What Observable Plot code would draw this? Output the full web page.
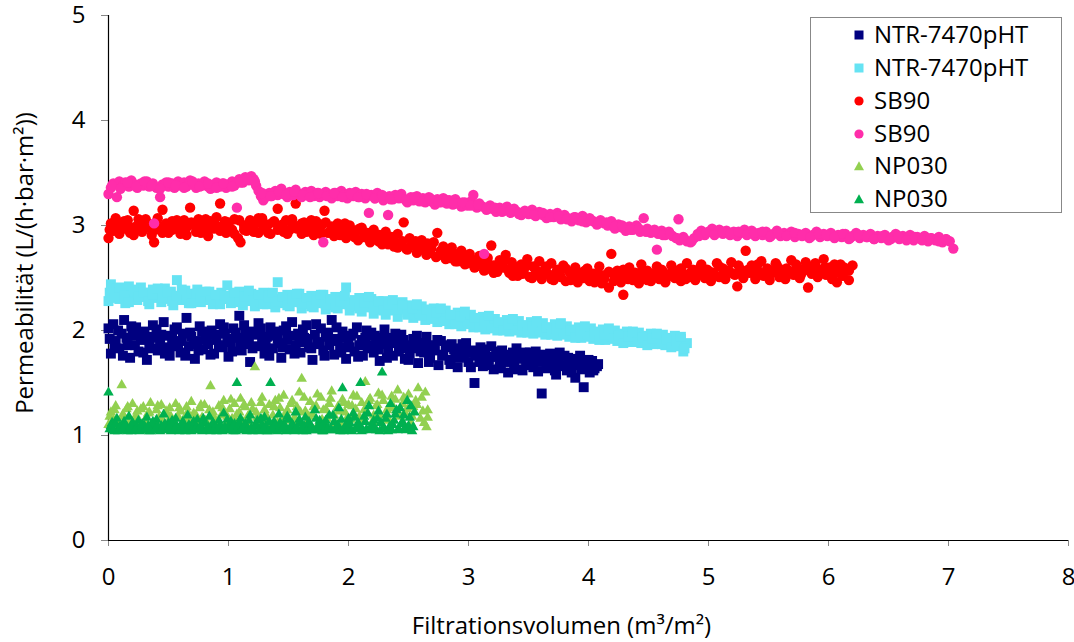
<!DOCTYPE html>
<html><head><meta charset="utf-8">
<script src="https://cdn.jsdelivr.net/npm/d3@7"></script>
<script src="https://cdn.jsdelivr.net/npm/@observablehq/plot@0.6"></script>
<style>
body{margin:0;background:#fff;}
#wrap{position:relative;width:1074px;height:642px;font-family:"Open Sans",sans-serif;}
#legend{position:absolute;left:810px;top:17px;width:252px;height:196px;border:1px solid #888;background:#fff;box-sizing:border-box;}
.row{position:absolute;left:0;width:250px;height:32px;}
.row svg{position:absolute;left:41px;top:9px;}
.row span{position:absolute;left:63px;top:-1px;line-height:32px;font-size:24px;color:#000;white-space:nowrap;}
</style></head><body><div id="wrap"><div id="legend"></div></div>
<script>
// Filtrationsvolumen (m3/m2), Permeabilität (L/(h·bar·m2))
const ntrA = [[0.00,2.02],[0.02,1.78],[0.04,2.06],[0.06,1.90],[0.09,1.83],[0.11,1.97],[0.13,2.10],[0.16,1.86],[0.18,1.74],[0.20,1.95],[0.23,2.03],[0.25,1.80],[0.27,1.91],[0.30,1.99],[0.32,1.72],[0.34,1.87],[0.37,2.05],[0.39,1.93],[0.41,1.81],[0.44,1.96],[0.46,2.08],[0.48,1.84],[0.51,1.76],[0.53,1.92],[0.55,2.01],[0.58,1.88],[0.60,1.79],[0.62,1.97],[0.65,2.12],[0.67,1.85],[0.69,1.94],[0.72,1.73],[0.74,1.90],[0.76,2.04],[0.79,1.82],[0.81,1.95],[0.83,1.87],[0.86,2.00],[0.88,1.78],[0.90,1.91],[0.93,2.06],[0.95,1.84],[0.97,1.97],[1.00,1.75],[1.02,1.89],[1.04,2.02],[1.07,1.93],[1.09,2.14],[1.11,1.81],[1.14,1.96],[1.16,1.87],[1.18,1.70],[1.21,1.99],[1.23,1.85],[1.25,2.07],[1.28,1.92],[1.30,1.78],[1.32,1.94],[1.35,2.03],[1.37,1.83],[1.39,1.95],[1.42,1.88],[1.44,1.74],[1.46,2.00],[1.49,1.91],[1.51,1.82],[1.53,2.08],[1.56,1.86],[1.58,1.97],[1.60,1.79],[1.63,1.93],[1.65,2.05],[1.67,1.84],[1.70,1.72],[1.72,1.96],[1.74,1.89],[1.77,2.02],[1.79,1.81],[1.81,1.94],[1.84,1.86],[1.86,2.10],[1.88,1.77],[1.91,1.92],[1.93,1.84],[1.95,1.99],[1.98,1.73],[2.00,1.88],[2.02,1.95],[2.05,1.80],[2.07,2.03],[2.09,1.86],[2.12,1.76],[2.14,1.93],[2.16,1.83],[2.19,1.98],[2.21,1.79],[2.23,1.90],[2.26,1.71],[2.28,1.87],[2.30,2.01],[2.33,1.82],[2.35,1.93],[2.37,1.76],[2.40,1.89],[2.42,1.80],[2.44,1.96],[2.47,1.73],[2.49,1.85],[2.51,1.78],[2.54,1.92],[2.56,1.83],[2.58,1.69],[2.61,1.88],[2.63,1.79],[2.65,1.94],[2.68,1.74],[2.70,1.86],[2.72,1.81],[2.75,1.67],[2.77,1.90],[2.79,1.77],[2.82,1.84],[2.84,1.72],[2.86,1.87],[2.89,1.79],[2.91,1.65],[2.93,1.83],[2.96,1.75],[2.98,1.88],[3.00,1.70],[3.03,1.81],[3.05,1.50],[3.07,1.76],[3.10,1.84],[3.12,1.66],[3.14,1.78],[3.17,1.72],[3.19,1.85],[3.21,1.63],[3.24,1.75],[3.26,1.69],[3.28,1.81],[3.31,1.71],[3.33,1.60],[3.35,1.77],[3.38,1.67],[3.40,1.83],[3.42,1.73],[3.45,1.62],[3.47,1.79],[3.49,1.69],[3.52,1.75],[3.54,1.65],[3.56,1.80],[3.59,1.70],[3.61,1.40],[3.63,1.74],[3.66,1.64],[3.68,1.78],[3.70,1.68],[3.73,1.58],[3.75,1.72],[3.77,1.66],[3.80,1.76],[3.82,1.62],[3.84,1.70],[3.87,1.67],[3.89,1.55],[3.91,1.73],[3.94,1.63],[3.96,1.46],[3.98,1.69],[4.01,1.60],[4.03,1.71],[4.05,1.64],[4.08,1.68],
[0.01,1.92],[0.05,1.84],[0.08,2.00],[0.12,1.76],[0.15,1.93],[0.19,2.04],[0.22,1.86],[0.26,1.97],[0.29,1.79],[0.33,1.94],[0.36,1.83],[0.40,2.01],[0.43,1.89],[0.47,1.78],[0.50,1.95],[0.54,1.85],[0.57,2.03],[0.61,1.90],[0.64,1.76],[0.68,1.98],[0.71,1.87],[0.75,1.81],[0.78,1.99],[0.82,1.91],[0.85,1.77],[0.89,1.96],[0.92,1.86],[0.96,2.03],[0.99,1.92],[1.03,1.80],[1.06,1.98],[1.10,1.88],[1.13,2.05],[1.17,1.93],[1.20,1.83],[1.24,1.96],[1.27,2.02],[1.31,1.87],[1.34,1.76],[1.38,1.99],[1.41,1.92],[1.45,1.84],[1.48,2.04],[1.52,1.95],[1.55,1.78],[1.59,1.89],[1.62,2.01],[1.66,1.92],[1.69,1.83],[1.73,2.06],[1.76,1.87],[1.80,1.76],[1.83,1.98],[1.87,1.90],[1.90,2.03],[1.94,1.79],[1.97,1.93],[2.01,1.84],[2.04,1.97],[2.08,1.75],[2.11,1.91],[2.15,2.00],[2.18,1.86],[2.22,1.95],[2.25,1.82],[2.29,1.93],[2.32,1.74],[2.36,1.88],[2.39,1.97],[2.43,1.83],[2.46,1.91],[2.50,1.72],[2.53,1.86],[2.57,1.95],[2.60,1.80],[2.64,1.88],[2.67,1.70],[2.71,1.83],[2.74,1.91],[2.78,1.76],[2.81,1.86],[2.85,1.68],[2.88,1.82],[2.92,1.74],[2.95,1.87],[2.99,1.79],[3.02,1.65],[3.06,1.77],[3.09,1.70],[3.13,1.82],[3.16,1.67],[3.20,1.75],[3.23,1.80],[3.27,1.64],[3.30,1.76],[3.34,1.70],[3.37,1.79],[3.41,1.63],[3.44,1.74],[3.48,1.67],[3.51,1.79],[3.55,1.71],[3.58,1.61],[3.62,1.77],[3.65,1.69],[3.69,1.73],[3.72,1.62],[3.76,1.79],[3.79,1.67],[3.83,1.74],[3.86,1.60],[3.90,1.70],[3.93,1.76],[3.97,1.65],[4.00,1.72],[4.04,1.62],[4.07,1.66]];

const ntrB = [[0.00,2.28],[0.02,2.44],[0.04,2.35],[0.07,2.40],[0.09,2.30],[0.12,2.38],[0.14,2.26],[0.17,2.42],[0.19,2.33],[0.22,2.37],[0.24,2.29],[0.27,2.41],[0.29,2.32],[0.32,2.36],[0.34,2.25],[0.37,2.39],[0.39,2.31],[0.42,2.35],[0.44,2.27],[0.47,2.40],[0.49,2.30],[0.52,2.37],[0.54,2.24],[0.57,2.48],[0.59,2.33],[0.62,2.29],[0.64,2.38],[0.67,2.26],[0.69,2.35],[0.72,2.31],[0.74,2.39],[0.77,2.27],[0.79,2.34],[0.82,2.29],[0.84,2.37],[0.87,2.25],[0.89,2.32],[0.92,2.28],[0.94,2.36],[0.97,2.30],[0.99,2.43],[1.02,2.26],[1.04,2.34],[1.07,2.29],[1.09,2.37],[1.12,2.24],[1.14,2.32],[1.17,2.28],[1.19,2.35],[1.22,2.23],[1.24,2.31],[1.27,2.27],[1.29,2.36],[1.32,2.25],[1.34,2.33],[1.37,2.28],[1.39,2.22],[1.41,2.46],[1.44,2.30],[1.46,2.26],[1.49,2.34],[1.51,2.23],[1.54,2.31],[1.56,2.27],[1.59,2.35],[1.61,2.21],[1.64,2.29],[1.66,2.25],[1.69,2.33],[1.71,2.22],[1.74,2.30],[1.76,2.26],[1.79,2.34],[1.81,2.20],[1.84,2.28],[1.86,2.24],[1.89,2.32],[1.91,2.21],[1.94,2.29],[1.96,2.25],[1.98,2.41],[2.01,2.19],[2.04,2.27],[2.06,2.23],[2.09,2.31],[2.11,2.18],[2.14,2.26],[2.16,2.22],[2.19,2.30],[2.21,2.16],[2.24,2.25],[2.26,2.20],[2.29,2.28],[2.31,2.15],[2.34,2.23],[2.36,2.19],[2.39,2.26],[2.41,2.13],[2.44,2.21],[2.45,2.27],[2.49,2.17],[2.51,2.24],[2.54,2.12],[2.56,2.20],[2.59,2.16],[2.61,2.23],[2.64,2.10],[2.66,2.18],[2.69,2.14],[2.71,2.21],[2.74,2.08],[2.76,2.16],[2.79,2.12],[2.81,2.19],[2.84,2.06],[2.86,2.14],[2.89,2.10],[2.91,2.17],[2.94,2.04],[2.96,2.12],[2.99,2.08],[3.02,2.15],[3.04,2.03],[3.07,2.10],[3.09,2.06],[3.12,2.13],[3.14,2.01],[3.17,2.09],[3.19,2.05],[3.22,2.11],[3.24,2.00],[3.27,2.07],[3.29,2.03],[3.32,2.10],[3.34,1.99],[3.37,2.06],[3.39,2.02],[3.42,2.09],[3.44,1.98],[3.47,2.05],[3.49,2.01],[3.52,2.08],[3.54,1.97],[3.57,2.04],[3.59,2.00],[3.62,2.07],[3.64,1.96],[3.67,2.03],[3.69,1.99],[3.72,2.06],[3.74,1.95],[3.77,2.02],[3.79,1.98],[3.82,2.04],[3.84,1.94],[3.87,2.01],[3.89,1.97],[3.92,2.03],[3.94,1.93],[3.97,2.00],[3.99,1.96],[4.02,2.02],[4.04,1.92],[4.07,1.99],[4.09,1.95],[4.12,2.01],[4.14,1.91],[4.17,1.98],[4.19,1.94],[4.22,2.00],[4.24,1.90],[4.27,1.97],[4.29,1.93],[4.32,1.99],[4.34,1.89],[4.37,1.96],[4.39,1.92],[4.42,1.98],[4.44,1.88],[4.47,1.95],[4.49,1.91],[4.52,1.97],[4.54,1.87],[4.57,1.94],[4.59,1.90],[4.62,1.96],[4.64,1.86],[4.67,1.93],[4.69,1.89],[4.72,1.95],[4.74,1.85],[4.77,1.92],[4.79,1.80],[4.82,1.88],
[0.01,2.36],[0.05,2.31],[0.09,2.41],[0.13,2.33],[0.17,2.27],[0.21,2.39],[0.25,2.32],[0.29,2.36],[0.33,2.28],[0.37,2.34],[0.41,2.40],[0.45,2.31],[0.49,2.36],[0.53,2.28],[0.57,2.33],[0.61,2.39],[0.65,2.30],[0.69,2.26],[0.73,2.35],[0.77,2.31],[0.81,2.37],[0.85,2.29],[0.89,2.34],[0.93,2.25],[0.97,2.33],[1.01,2.30],[1.05,2.36],[1.09,2.27],[1.13,2.32],[1.17,2.38],[1.21,2.29],[1.25,2.34],[1.29,2.25],[1.33,2.31],[1.37,2.36],[1.41,2.28],[1.45,2.32],[1.49,2.24],[1.53,2.30],[1.57,2.35],[1.61,2.26],[1.65,2.31],[1.69,2.23],[1.73,2.29],[1.77,2.34],[1.81,2.25],[1.85,2.30],[1.89,2.22],[1.93,2.28],[1.97,2.33],[2.01,2.24],[2.05,2.29],[2.09,2.21],[2.13,2.27],[2.17,2.32],[2.21,2.22],[2.25,2.28],[2.29,2.19],[2.33,2.25],[2.37,2.29],[2.41,2.20],[2.45,2.24],[2.49,2.15],[2.53,2.21],[2.57,2.25],[2.61,2.14],[2.65,2.20],[2.69,2.11],[2.73,2.17],[2.77,2.21],[2.81,2.09],[2.85,2.15],[2.89,2.06],[2.93,2.13],[2.97,2.18],[3.01,2.06],[3.05,2.12],[3.09,2.03],[3.13,2.09],[3.17,2.14],[3.21,2.02],[3.25,2.08],[3.29,2.00],[3.33,2.06],[3.37,2.11],[3.41,2.00],[3.45,2.05],[3.49,1.98],[3.53,2.04],[3.57,2.09],[3.61,1.98],[3.65,2.03],[3.69,1.96],[3.73,2.02],[3.77,2.07],[3.81,1.96],[3.85,2.00],[3.89,1.93],[3.93,1.99],[3.97,2.04],[4.01,1.94],[4.05,1.98],[4.09,1.91],[4.13,1.96],[4.17,2.02],[4.21,1.92],[4.25,1.95],[4.29,1.88],[4.33,1.94],[4.37,1.99],[4.41,1.89],[4.45,1.93],[4.49,1.86],[4.53,1.92],[4.57,1.97],[4.61,1.87],[4.65,1.91],[4.69,1.84],[4.73,1.90],[4.77,1.94],[4.80,1.83]];

const sb90A = [[0.00,2.88],[0.02,3.02],[0.04,2.95],[0.06,3.07],[0.09,2.92],[0.11,3.00],[0.13,2.97],[0.16,3.05],[0.18,2.93],[0.21,3.14],[0.23,2.99],[0.26,3.03],[0.28,2.94],[0.31,3.06],[0.33,2.98],[0.36,2.91],[0.38,2.84],[0.41,3.01],[0.43,2.96],[0.45,3.15],[0.48,3.02],[0.50,2.93],[0.53,3.04],[0.55,2.97],[0.58,3.00],[0.60,2.92],[0.63,3.05],[0.65,2.98],[0.68,3.17],[0.70,3.01],[0.73,2.94],[0.75,3.06],[0.78,2.96],[0.80,3.02],[0.83,2.90],[0.85,3.04],[0.88,2.97],[0.90,3.08],[0.93,3.21],[0.95,2.99],[0.98,2.93],[1.00,3.03],[1.03,2.96],[1.05,3.06],[1.08,2.88],[1.10,2.84],[1.13,3.00],[1.15,2.95],[1.18,3.05],[1.20,2.98],[1.23,3.02],[1.25,2.93],[1.28,3.07],[1.30,2.97],[1.33,3.01],[1.35,2.92],[1.38,3.04],[1.41,3.16],[1.43,2.99],[1.46,2.94],[1.48,3.05],[1.51,2.96],[1.53,3.02],[1.56,3.21],[1.58,2.98],[1.61,2.92],[1.63,3.03],[1.66,2.95],[1.68,3.00],[1.71,2.91],[1.73,3.04],[1.76,2.96],[1.78,3.01],[1.80,3.14],[1.83,2.93],[1.86,2.99],[1.88,2.90],[1.91,3.02],[1.93,2.94],[1.96,2.97],[1.98,2.88],[2.01,3.00],[2.03,2.91],[2.06,2.95],[2.08,2.86],[2.11,2.98],[2.13,2.89],[2.16,2.93],[2.18,2.84],[2.21,2.96],[2.23,2.87],[2.26,2.91],[2.28,2.82],[2.31,2.94],[2.33,2.85],[2.36,2.89],[2.38,2.80],[2.41,2.92],[2.43,2.83],[2.46,3.03],[2.48,2.78],[2.51,2.88],[2.53,2.81],[2.56,2.85],[2.58,2.76],[2.61,2.86],[2.63,2.79],[2.66,2.83],[2.68,2.74],[2.71,2.84],[2.74,2.93],[2.76,2.72],[2.79,2.80],[2.81,2.75],[2.84,2.69],[2.86,2.79],[2.89,2.73],[2.91,2.66],[2.94,2.76],[2.96,2.70],[2.99,2.64],[3.01,2.73],[3.04,2.67],[3.06,2.61],[3.09,2.71],[3.11,2.64],[3.14,2.58],[3.16,2.69],[3.19,2.81],[3.21,2.62],[3.24,2.56],[3.26,2.67],[3.29,2.60],[3.31,2.72],[3.34,2.55],[3.36,2.65],[3.39,2.59],[3.41,2.52],[3.44,2.63],[3.46,2.57],[3.49,2.68],[3.51,2.51],[3.54,2.61],[3.56,2.55],[3.59,2.66],[3.61,2.49],[3.64,2.59],[3.66,2.54],[3.69,2.64],[3.71,2.48],[3.74,2.58],[3.76,2.52],[3.79,2.62],[3.81,2.47],[3.84,2.56],[3.86,2.51],[3.89,2.60],[3.91,2.46],[3.94,2.55],[3.96,2.50],[3.99,2.59],[4.01,2.47],[4.04,2.54],[4.06,2.49],[4.09,2.61],[4.11,2.45],[4.14,2.53],[4.17,2.41],[4.19,2.73],[4.22,2.50],[4.24,2.57],[4.27,2.46],[4.29,2.34],[4.32,2.52],[4.34,2.60],[4.37,2.48],[4.39,2.55],[4.42,2.45],[4.44,2.63],[4.47,2.51],[4.49,2.57],[4.52,2.47],[4.54,2.54],[4.57,2.61],[4.59,2.49],[4.62,2.56],[4.64,2.46],[4.67,2.53],[4.69,2.62],[4.72,2.50],[4.74,2.57],[4.77,2.47],[4.79,2.54],[4.82,2.64],[4.84,2.51],[4.87,2.58],[4.89,2.48],[4.92,2.55],[4.94,2.63],[4.97,2.52],[4.99,2.58],[5.02,2.47],[5.04,2.55],[5.07,2.64],[5.09,2.51],[5.12,2.59],[5.14,2.49],[5.17,2.56],[5.19,2.65],[5.22,2.53],[5.24,2.42],[5.27,2.58],[5.29,2.50],[5.31,2.76],[5.34,2.55],[5.36,2.62],[5.39,2.49],[5.41,2.57],[5.44,2.66],[5.46,2.52],[5.49,2.59],[5.51,2.48],[5.54,2.56],[5.56,2.64],[5.59,2.51],[5.61,2.58],[5.64,2.49],[5.66,2.55],[5.69,2.67],[5.71,2.53],[5.74,2.60],[5.76,2.50],[5.79,2.57],[5.81,2.65],[5.83,2.41],[5.86,2.54],[5.88,2.62],[5.91,2.51],[5.93,2.58],[5.96,2.68],[5.98,2.53],[6.01,2.60],[6.03,2.49],[6.06,2.56],[6.07,2.46],[6.10,2.63],[6.12,2.52],[6.15,2.58],[6.17,2.48],[6.20,2.62],
[0.01,2.96],[0.05,3.01],[0.09,2.94],[0.13,3.04],[0.17,2.99],[0.21,2.91],[0.25,3.06],[0.29,2.97],[0.33,3.02],[0.37,2.95],[0.41,3.07],[0.45,2.93],[0.49,3.00],[0.53,2.96],[0.57,3.05],[0.61,2.98],[0.65,2.91],[0.69,3.03],[0.73,2.99],[0.77,2.93],[0.81,3.06],[0.85,2.97],[0.89,3.01],[0.93,2.95],[0.97,3.04],[1.01,2.98],[1.05,2.92],[1.09,3.05],[1.13,2.96],[1.17,3.00],[1.21,2.94],[1.25,3.07],[1.29,2.99],[1.33,2.93],[1.37,3.03],[1.41,2.96],[1.45,3.01],[1.49,2.92],[1.53,3.06],[1.57,2.97],[1.61,3.02],[1.65,2.94],[1.69,3.05],[1.73,2.98],[1.77,2.92],[1.81,3.03],[1.85,2.95],[1.89,2.99],[1.93,2.91],[1.97,3.02],[2.01,2.94],[2.05,2.89],[2.09,2.97],[2.13,2.92],[2.17,2.87],[2.21,2.93],[2.25,2.85],[2.29,2.90],[2.33,2.82],[2.37,2.87],[2.41,2.79],[2.45,2.85],[2.49,2.77],[2.53,2.83],[2.57,2.74],[2.61,2.80],[2.65,2.72],[2.69,2.78],[2.73,2.70],[2.77,2.76],[2.81,2.68],[2.85,2.74],[2.89,2.66],[2.93,2.71],[2.97,2.63],[3.01,2.68],[3.05,2.60],[3.09,2.66],[3.13,2.57],[3.17,2.63],[3.21,2.55],[3.25,2.61],[3.29,2.66],[3.33,2.58],[3.37,2.52],[3.41,2.60],[3.45,2.54],[3.49,2.62],[3.53,2.50],[3.57,2.57],[3.61,2.53],[3.65,2.61],[3.69,2.49],[3.73,2.55],[3.77,2.51],[3.81,2.59],[3.85,2.48],[3.89,2.54],[3.93,2.50],[3.97,2.57],[4.01,2.51],[4.05,2.46],[4.09,2.53],[4.13,2.49],[4.17,2.56],[4.21,2.47],[4.25,2.52],[4.29,2.58],[4.33,2.49],[4.37,2.54],[4.41,2.50],[4.45,2.57],[4.49,2.48],[4.53,2.53],[4.57,2.51],[4.61,2.58],[4.65,2.50],[4.69,2.55],[4.73,2.52],[4.77,2.59],[4.81,2.49],[4.85,2.55],[4.89,2.52],[4.93,2.60],[4.97,2.50],[5.01,2.56],[5.05,2.53],[5.09,2.61],[5.13,2.51],[5.17,2.57],[5.21,2.54],[5.25,2.62],[5.29,2.52],[5.33,2.58],[5.37,2.55],[5.41,2.63],[5.45,2.53],[5.49,2.58],[5.53,2.55],[5.57,2.62],[5.61,2.52],[5.65,2.59],[5.69,2.56],[5.73,2.63],[5.77,2.53],[5.81,2.59],[5.85,2.56],[5.89,2.64],[5.93,2.54],[5.97,2.60],[6.01,2.56],[6.05,2.63],[6.09,2.55],[6.13,2.60],[6.17,2.57]];

const sb90B = [[0.00,3.30],[0.02,3.36],[0.04,3.40],[0.07,3.27],[0.09,3.42],[0.12,3.38],[0.14,3.41],[0.17,3.37],[0.19,3.43],[0.22,3.39],[0.24,3.36],[0.27,3.40],[0.29,3.38],[0.32,3.42],[0.34,3.37],[0.37,3.40],[0.38,3.02],[0.40,3.36],[0.43,3.27],[0.45,3.39],[0.48,3.41],[0.50,3.37],[0.53,3.40],[0.55,3.36],[0.58,3.42],[0.60,3.38],[0.63,3.41],[0.65,3.37],[0.68,3.43],[0.70,3.39],[0.73,3.36],[0.75,3.40],[0.78,3.38],[0.80,3.42],[0.83,3.37],[0.85,3.35],[0.88,3.39],[0.90,3.41],[0.93,3.37],[0.95,3.40],[0.98,3.36],[1.00,3.39],[1.03,3.42],[1.05,3.38],[1.07,3.17],[1.09,3.44],[1.12,3.41],[1.14,3.46],[1.17,3.43],[1.19,3.47],[1.21,3.44],[1.23,3.38],[1.25,3.33],[1.27,3.28],[1.29,3.24],[1.31,3.27],[1.34,3.31],[1.36,3.28],[1.39,3.33],[1.41,3.29],[1.44,3.35],[1.46,3.30],[1.49,3.27],[1.51,3.32],[1.54,3.29],[1.56,3.34],[1.59,3.30],[1.61,3.27],[1.64,3.32],[1.66,3.29],[1.69,3.33],[1.71,3.28],[1.74,3.31],[1.76,3.27],[1.79,2.84],[1.81,3.32],[1.84,3.29],[1.86,3.26],[1.89,3.31],[1.91,3.28],[1.94,3.33],[1.96,3.29],[1.99,3.26],[2.01,3.31],[2.04,3.28],[2.06,3.32],[2.09,3.27],[2.11,3.30],[2.14,3.26],[2.17,3.12],[2.19,3.29],[2.22,3.26],[2.24,3.31],[2.27,3.27],[2.29,3.24],[2.33,3.10],[2.34,3.28],[2.37,3.25],[2.39,3.29],[2.42,3.26],[2.44,3.30],[2.47,3.25],[2.49,3.22],[2.52,3.27],[2.54,3.24],[2.57,3.28],[2.59,3.23],[2.62,3.26],[2.64,3.22],[2.67,3.27],[2.69,3.23],[2.72,3.20],[2.74,3.25],[2.77,3.22],[2.79,3.26],[2.82,3.21],[2.84,3.24],[2.87,3.20],[2.89,3.25],[2.92,3.21],[2.94,3.18],[2.97,3.22],[2.99,3.19],[3.02,3.23],[3.04,3.29],[3.07,3.17],[3.09,3.21],[3.12,3.18],[3.13,2.73],[3.15,3.15],[3.18,3.19],[3.20,3.16],[3.23,3.13],[3.26,3.17],[3.29,3.14],[3.32,3.18],[3.35,3.12],[3.38,3.16],[3.41,3.13],[3.44,3.10],[3.47,3.14],[3.50,3.11],[3.53,3.15],[3.56,3.09],[3.59,3.13],[3.62,3.10],[3.65,3.07],[3.68,3.11],[3.71,3.08],[3.74,3.12],[3.77,3.06],[3.80,3.10],[3.83,3.07],[3.86,3.04],[3.89,3.08],[3.92,3.05],[3.95,3.09],[3.98,3.03],[4.01,3.07],[4.04,3.04],[4.07,3.01],[4.10,3.05],[4.13,3.02],[4.16,3.00],[4.19,3.04],[4.22,2.97],[4.25,3.01],[4.28,2.98],[4.31,2.95],[4.34,2.99],[4.37,2.96],[4.40,3.00],[4.43,2.94],[4.46,3.07],[4.49,2.97],[4.52,2.93],[4.55,2.96],[4.57,2.77],[4.58,2.92],[4.61,2.95],[4.64,2.91],[4.67,2.94],[4.70,2.90],[4.73,2.88],[4.75,3.06],[4.76,2.86],[4.79,2.89],[4.82,2.85],[4.85,2.84],[4.88,2.88],[4.91,2.92],[4.94,2.95],[4.97,2.91],[5.00,2.94],[5.03,2.97],[5.06,2.93],[5.09,2.96],[5.12,2.92],[5.15,2.95],[5.18,2.91],[5.21,2.94],[5.24,2.90],[5.27,2.93],[5.30,2.96],[5.33,2.92],[5.36,2.95],[5.39,2.90],[5.42,2.93],[5.45,2.91],[5.48,2.94],[5.51,2.89],[5.54,2.92],[5.57,2.95],[5.60,2.90],[5.63,2.93],[5.66,2.91],[5.69,2.94],[5.72,2.89],[5.75,2.92],[5.78,2.90],[5.81,2.93],[5.84,2.88],[5.87,2.91],[5.90,2.94],[5.93,2.89],[5.96,2.92],[5.99,2.90],[6.02,2.93],[6.05,2.88],[6.08,2.91],[6.11,2.89],[6.14,2.92],[6.17,2.87],[6.20,2.90],[6.23,2.93],[6.26,2.88],[6.29,2.91],[6.32,2.89],[6.35,2.92],[6.38,2.87],[6.41,2.90],[6.44,2.88],[6.47,2.91],[6.50,2.86],[6.53,2.89],[6.56,2.92],[6.59,2.87],[6.62,2.90],[6.65,2.88],[6.68,2.91],[6.71,2.86],[6.74,2.89],[6.77,2.87],[6.80,2.90],[6.83,2.85],[6.86,2.88],[6.89,2.86],[6.92,2.89],[6.95,2.84],[6.98,2.87],[7.01,2.85],[7.04,2.78],
[0.03,3.38],[0.10,3.35],[0.16,3.41],[0.23,3.37],[0.30,3.42],[0.36,3.38],[0.43,3.35],[0.50,3.41],[0.56,3.38],[0.63,3.36],[0.70,3.42],[0.76,3.37],[0.83,3.40],[0.90,3.36],[0.96,3.40],[1.03,3.37],[1.10,3.41],[1.16,3.44],[1.22,3.42],[1.28,3.31],[1.35,3.28],[1.42,3.32],[1.48,3.29],[1.55,3.32],[1.62,3.29],[1.68,3.27],[1.75,3.31],[1.82,3.28],[1.88,3.31],[1.95,3.27],[2.02,3.30],[2.08,3.27],[2.15,3.30],[2.22,3.26],[2.28,3.29],[2.35,3.25],[2.42,3.28],[2.48,3.24],[2.55,3.27],[2.62,3.23],[2.68,3.26],[2.75,3.22],[2.82,3.24],[2.88,3.21],[2.95,3.22],[3.02,3.19],[3.08,3.20],[3.15,3.16],[3.22,3.17],[3.28,3.13],[3.35,3.15],[3.42,3.11],[3.48,3.13],[3.55,3.10],[3.62,3.12],[3.68,3.08],[3.75,3.09],[3.82,3.06],[3.88,3.08],[3.95,3.04],[4.02,3.05],[4.08,3.02],[4.15,3.03],[4.22,2.99],[4.28,3.00],[4.35,2.96],[4.42,2.97],[4.48,2.94],[4.55,2.94],[4.62,2.91],[4.68,2.92],[4.74,2.88],[4.80,2.87],[4.86,2.85],[4.92,2.90],[4.98,2.93],[5.05,2.91],[5.12,2.94],[5.18,2.92],[5.25,2.94],[5.32,2.91],[5.38,2.93],[5.45,2.94],[5.52,2.90],[5.58,2.93],[5.65,2.90],[5.72,2.93],[5.78,2.91],[5.85,2.89],[5.92,2.92],[5.98,2.91],[6.05,2.89],[6.12,2.92],[6.18,2.88],[6.25,2.91],[6.32,2.89],[6.38,2.87],[6.45,2.90],[6.52,2.87],[6.58,2.90],[6.65,2.86],[6.72,2.89],[6.78,2.86],[6.85,2.88],[6.92,2.85],[6.98,2.87]];

const np030A = [[0.00,1.10],[0.02,1.22],[0.04,1.15],[0.06,1.28],[0.08,1.08],[0.11,1.48],[0.13,1.18],[0.15,1.25],[0.17,1.12],[0.20,1.30],[0.22,1.16],[0.24,1.23],[0.26,1.09],[0.29,1.27],[0.31,1.14],[0.33,1.21],[0.35,1.31],[0.38,1.11],[0.40,1.24],[0.42,1.17],[0.44,1.29],[0.47,1.07],[0.49,1.20],[0.51,1.26],[0.53,1.13],[0.56,1.30],[0.58,1.18],[0.60,1.23],[0.62,1.10],[0.65,1.27],[0.67,1.15],[0.69,1.32],[0.71,1.21],[0.74,1.12],[0.76,1.26],[0.78,1.17],[0.80,1.29],[0.83,1.09],[0.85,1.47],[0.87,1.22],[0.89,1.14],[0.92,1.28],[0.94,1.19],[0.96,1.33],[0.98,1.11],[1.01,1.25],[1.03,1.16],[1.05,1.30],[1.07,1.20],[1.10,1.35],[1.12,1.13],[1.14,1.27],[1.16,1.18],[1.19,1.31],[1.22,1.65],[1.23,1.22],[1.25,1.10],[1.28,1.36],[1.30,1.24],[1.32,1.15],[1.34,1.29],[1.37,1.19],[1.39,1.33],[1.41,1.12],[1.43,1.26],[1.46,1.38],[1.48,1.21],[1.50,1.14],[1.52,1.30],[1.55,1.17],[1.57,1.27],[1.59,1.41],[1.61,1.54],[1.64,1.23],[1.66,1.13],[1.68,1.32],[1.70,1.20],[1.73,1.28],[1.75,1.11],[1.77,1.36],[1.79,1.24],[1.82,1.16],[1.84,1.30],[1.86,1.42],[1.88,1.19],[1.91,1.27],[1.93,1.12],[1.95,1.34],[1.97,1.22],[2.00,1.29],[2.02,1.15],[2.04,1.38],[2.06,1.25],[2.09,1.18],[2.11,1.31],[2.14,1.51],[2.16,1.21],[2.18,1.35],[2.20,1.13],[2.23,1.28],[2.25,1.40],[2.27,1.19],[2.29,1.33],[2.32,1.24],[2.34,1.14],[2.36,1.37],[2.38,1.26],[2.41,1.43],[2.43,1.18],[2.45,1.30],[2.47,1.22],[2.50,1.39],[2.52,1.12],[2.54,1.27],[2.56,1.33],[2.58,1.45],[2.60,1.16],[2.62,1.23],[2.64,1.41],[2.65,1.08],[2.66,1.17],
[0.01,1.18],[0.05,1.24],[0.09,1.13],[0.12,1.20],[0.16,1.27],[0.19,1.10],[0.23,1.19],[0.27,1.25],[0.30,1.14],[0.34,1.22],[0.37,1.08],[0.41,1.28],[0.45,1.15],[0.48,1.23],[0.52,1.18],[0.55,1.11],[0.59,1.26],[0.63,1.16],[0.66,1.22],[0.70,1.09],[0.73,1.19],[0.77,1.29],[0.81,1.14],[0.84,1.24],[0.88,1.17],[0.91,1.10],[0.95,1.26],[0.99,1.18],[1.02,1.34],[1.06,1.14],[1.09,1.22],[1.13,1.29],[1.17,1.12],[1.20,1.25],[1.24,1.17],[1.27,1.31],[1.31,1.20],[1.35,1.11],[1.38,1.27],[1.42,1.35],[1.45,1.16],[1.49,1.24],[1.53,1.33],[1.56,1.13],[1.60,1.22],[1.63,1.36],[1.67,1.18],[1.71,1.27],[1.74,1.39],[1.78,1.15],[1.81,1.25],[1.85,1.35],[1.89,1.12],[1.92,1.23],[1.96,1.31],[1.99,1.17],[2.03,1.28],[2.07,1.37],[2.10,1.14],[2.13,1.24],[2.17,1.33],[2.21,1.19],[2.24,1.29],[2.28,1.38],[2.31,1.15],[2.35,1.26],[2.39,1.34],[2.42,1.20],[2.46,1.36],[2.49,1.25],[2.53,1.18],[2.57,1.29],[2.61,1.36],[2.63,1.12],[2.66,1.24]];

const np030B = [[0.00,1.41],[0.01,1.06],[0.03,1.12],[0.05,1.04],[0.07,1.16],[0.09,1.08],[0.11,1.05],[0.13,1.13],[0.15,1.07],[0.17,1.18],[0.19,1.04],[0.21,1.10],[0.23,1.06],[0.25,1.14],[0.27,1.05],[0.30,1.09],[0.32,1.17],[0.34,1.04],[0.36,1.11],[0.38,1.07],[0.40,1.15],[0.42,1.05],[0.44,1.09],[0.46,1.20],[0.48,1.06],[0.50,1.12],[0.52,1.04],[0.54,1.10],[0.56,1.16],[0.58,1.05],[0.60,1.08],[0.62,1.13],[0.64,1.04],[0.66,1.19],[0.68,1.07],[0.70,1.11],[0.72,1.05],[0.74,1.15],[0.76,1.08],[0.78,1.04],[0.80,1.12],[0.82,1.06],[0.84,1.18],[0.86,1.05],[0.88,1.10],[0.90,1.04],[0.92,1.14],[0.94,1.07],[0.96,1.21],[0.98,1.05],[1.00,1.09],[1.02,1.13],[1.04,1.04],[1.07,1.50],[1.08,1.08],[1.10,1.16],[1.12,1.05],[1.14,1.11],[1.16,1.06],[1.18,1.19],[1.20,1.04],[1.22,1.09],[1.24,1.14],[1.26,1.05],[1.28,1.10],[1.30,1.17],[1.32,1.04],[1.35,1.50],[1.36,1.08],[1.38,1.13],[1.40,1.05],[1.42,1.20],[1.44,1.07],[1.46,1.11],[1.48,1.04],[1.50,1.15],[1.52,1.06],[1.54,1.09],[1.56,1.22],[1.58,1.05],[1.60,1.12],[1.62,1.04],[1.64,1.17],[1.66,1.07],[1.68,1.10],[1.70,1.05],[1.72,1.24],[1.74,1.08],[1.76,1.14],[1.78,1.04],[1.80,1.11],[1.82,1.06],[1.84,1.19],[1.86,1.05],[1.88,1.13],[1.90,1.08],[1.92,1.26],[1.95,1.45],[1.96,1.04],[1.98,1.10],[2.00,1.16],[2.02,1.05],[2.04,1.21],[2.06,1.07],[2.08,1.12],[2.10,1.50],[2.11,1.04],[2.13,1.18],[2.15,1.06],[2.17,1.28],[2.19,1.09],[2.21,1.14],[2.23,1.05],[2.25,1.23],[2.28,1.60],[2.29,1.08],[2.31,1.16],[2.33,1.04],[2.35,1.30],[2.37,1.10],[2.39,1.20],[2.41,1.05],[2.43,1.26],[2.45,1.13],[2.47,1.07],[2.49,1.33],[2.51,1.17],[2.53,1.04],[2.55,1.22],
[0.02,1.09],[0.04,1.05],[0.06,1.11],[0.08,1.04],[0.10,1.08],[0.12,1.06],[0.14,1.10],[0.16,1.04],[0.18,1.07],[0.20,1.12],[0.22,1.05],[0.24,1.08],[0.26,1.04],[0.28,1.11],[0.31,1.06],[0.33,1.09],[0.35,1.04],[0.37,1.13],[0.39,1.06],[0.41,1.09],[0.43,1.04],[0.45,1.07],[0.47,1.11],[0.49,1.05],[0.51,1.08],[0.53,1.14],[0.55,1.05],[0.57,1.09],[0.59,1.04],[0.61,1.11],[0.63,1.07],[0.65,1.05],[0.67,1.10],[0.69,1.04],[0.71,1.13],[0.73,1.07],[0.75,1.05],[0.77,1.09],[0.79,1.16],[0.81,1.05],[0.83,1.08],[0.85,1.04],[0.87,1.12],[0.89,1.07],[0.91,1.05],[0.93,1.10],[0.95,1.04],[0.97,1.08],[0.99,1.15],[1.01,1.05],[1.03,1.07],[1.05,1.11],[1.06,1.04],[1.09,1.12],[1.11,1.06],[1.13,1.09],[1.15,1.04],[1.17,1.14],[1.19,1.07],[1.21,1.05],[1.23,1.10],[1.25,1.04],[1.27,1.16],[1.29,1.06],[1.31,1.09],[1.33,1.04],[1.34,1.13],[1.37,1.06],[1.39,1.10],[1.41,1.04],[1.43,1.12],[1.45,1.06],[1.47,1.09],[1.49,1.18],[1.51,1.05],[1.53,1.11],[1.55,1.04],[1.57,1.08],[1.59,1.15],[1.61,1.06],[1.63,1.09],[1.65,1.04],[1.67,1.13],[1.69,1.07],[1.71,1.05],[1.73,1.16],[1.75,1.06],[1.77,1.10],[1.79,1.04],[1.81,1.14],[1.83,1.07],[1.85,1.05],[1.87,1.19],[1.89,1.06],[1.91,1.10],[1.93,1.04],[1.94,1.15],[1.97,1.08],[1.99,1.05],[2.01,1.12],[2.03,1.04],[2.05,1.17],[2.07,1.06],[2.09,1.09],[2.12,1.05],[2.14,1.13],[2.16,1.21],[2.18,1.05],[2.20,1.10],[2.22,1.07],[2.24,1.16],[2.26,1.04],[2.27,1.12],[2.30,1.06],[2.32,1.20],[2.34,1.08],[2.36,1.05],[2.38,1.14],[2.40,1.24],[2.42,1.06],[2.44,1.11],[2.46,1.19],[2.48,1.05],[2.50,1.09],[2.52,1.28],[2.54,1.08]];

const seriesNames = ["NTR-7470pHT", "NTR-7470pHT", "SB90", "SB90", "NP030", "NP030"];
const seriesColors = ["#000080", "#66E3F3", "#FF0000", "#FF2DAA", "#92D050", "#00B050"];
const seriesSymbols = ["square", "square", "circle", "circle", "triangle", "triangle"];
const seriesRadius = [5.6, 5.6, 5.2, 5.2, 3.9, 3.9];
const seriesData = [ntrA, ntrB, sb90A, sb90B, np030A, np030B];
const xTicks = [0, 1, 2, 3, 4, 5, 6, 7, 8];
const yTicks = [0, 1, 2, 3, 4, 5];
const xTitle = "Filtrationsvolumen (m³/m²)";
const yTitle = "Permeabilität (L/(h·bar·m²))";

const chart = Plot.plot({
  width: 1074,
  height: 642,
  marginLeft: 108,
  marginRight: 6,
  marginTop: 15,
  marginBottom: 102,
  style: {fontFamily: "'Open Sans', sans-serif", fontSize: "24px", background: "#fff", color: "#000", overflow: "visible"},
  x: {domain: [0, 8]},
  y: {domain: [0, 5]},
  marks: [
    Plot.axisX({ticks: xTicks, tickFormat: d => String(d), tickSize: 6, tickPadding: 21, stroke: "#888", fill: "#000", fontSize: 24, label: null}),
    Plot.axisY({ticks: yTicks, tickFormat: d => String(d), tickSize: 7, tickPadding: 16, stroke: "#888", fill: "#000", fontSize: 24, label: null}),
    Plot.ruleX([0], {stroke: "#000", strokeWidth: 1.2}),
    Plot.ruleY([0], {stroke: "#000", strokeWidth: 1.2}),
    ...seriesData.map((d, i) => Plot.dot(d, {
      x: p => p[0], y: p => p[1],
      symbol: seriesSymbols[i], r: seriesRadius[i],
      fill: seriesColors[i], stroke: "none"
    })),
    Plot.text([yTitle], {text: d => d, frameAnchor: "left", textAnchor: "middle", lineAnchor: "middle", rotate: -90, dx: -83, dy: -15, fontSize: 24, fill: "#000"}),
    Plot.text([xTitle], {text: d => d, frameAnchor: "bottom", textAnchor: "middle", lineAnchor: "middle", dx: -27, dy: 86, fontSize: 24, fill: "#000"})
  ]
});
const wrap = document.getElementById("wrap");
wrap.insertBefore(chart, wrap.firstChild);

const legend = document.getElementById("legend");
const rowCenters = [17, 50, 83, 116, 148, 181];
seriesNames.forEach((name, i) => {
  const row = document.createElement("div");
  row.className = "row";
  row.style.top = (rowCenters[i] - 16) + "px";
  let shape;
  if (seriesSymbols[i] === "square") shape = `<rect x="2.5" y="2.5" width="9" height="9" fill="${seriesColors[i]}"/>`;
  else if (seriesSymbols[i] === "circle") shape = `<circle cx="7" cy="7" r="4.6" fill="${seriesColors[i]}"/>`;
  else shape = `<path d="M7,2.2L12,11.2L2,11.2Z" fill="${seriesColors[i]}"/>`;
  row.innerHTML = `<svg width="14" height="14">${shape}</svg><span>${name}</span>`;
  legend.appendChild(row);
});
</script></body></html>
